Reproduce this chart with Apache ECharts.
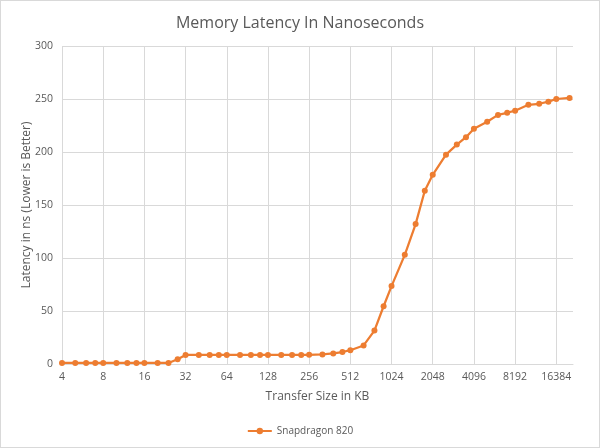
<!DOCTYPE html>
<html><head><meta charset="utf-8">
<script src="https://cdn.jsdelivr.net/npm/echarts@6/dist/echarts.min.js"></script>
<style>html,body{margin:0;padding:0;background:#fff}#c{width:598px;height:446px;border:1px solid #d9d9d9}</style>
</head><body><div id="c"></div>
<script>
const sizesKB = [4,5,6,7,8,10,12,14,16,20,24,28,32,40,48,56,64,80,96,112,128,160,192,224,256,320,384,448,512,640,768,896,1024,1280,1536,1792,2048,2560,3072,3584,4096,5120,6144,7168,8192,10240,12288,14336,16384,20480];
const latencyNs = [1,1,1,1,1,1,1,1,1,1,1,4.5,8.5,8.5,8.5,8.5,8.5,8.5,8.5,8.5,8.5,8.5,8.5,8.5,8.7,9,10,11.3,13,17.5,31.5,54.5,73.5,103,132,163.5,178.5,197.5,207,214,222,228.5,235,237,239,244.5,245.5,247.5,250,251];
const tickLabels = [4,8,16,32,64,128,256,512,1024,2048,4096,8192,16384];
const seriesName = 'Snapdragon 820';

const FONT = "'Open Sans', sans-serif";
const chart = echarts.init(document.getElementById('c'), null, {renderer:'canvas'});
chart.setOption({
  animation: false,
  textStyle: {fontFamily: FONT},
  title: {text: 'Memory Latency In Nanoseconds', left: 'center', top: 9,
    textStyle: {fontFamily: FONT, fontSize: 16, fontWeight: 'normal', color: '#595959'}},
  grid: {left: 61, right: 26, top: 45, bottom: 83},
  legend: {bottom: 6, left: 'center', itemWidth: 24, itemHeight: 8, itemGap: 10,
    textStyle: {fontFamily: FONT, fontSize: 10, color: '#595959'}, data: [seriesName]},
  xAxis: {
    type: 'log', logBase: 2, min: 4, max: 21700, interval: 1,
    name: 'Transfer Size in KB', nameLocation: 'middle', nameGap: 27,
    nameTextStyle: {fontFamily: FONT, fontSize: 12, color: '#595959'},
    axisLine: {show: true, lineStyle: {color: '#d9d9d9', width: 1}},
    axisTick: {show: false},
    axisLabel: {color: '#595959', fontSize: 10.5, fontFamily: FONT, margin: 8, showMaxLabel: false,
      formatter: v => { const r = Math.round(v); return tickLabels.includes(r) ? String(r) : ''; }},
    splitLine: {show: true, showMaxLine: false, lineStyle: {color: '#d9d9d9', width: 1}}
  },
  yAxis: {
    type: 'value', min: 0, max: 300, interval: 50,
    name: 'Latency in ns (Lower is Better)', nameLocation: 'middle', nameGap: 29, nameMoveOverlap: false,
    nameTextStyle: {fontFamily: FONT, fontSize: 12, color: '#595959'},
    axisLine: {show: false}, axisTick: {show: false},
    axisLabel: {color: '#595959', fontSize: 10.5, fontFamily: FONT, margin: 9},
    splitLine: {show: true, lineStyle: {color: '#d9d9d9', width: 1}}
  },
  series: [{
    name: seriesName, type: 'line',
    data: sizesKB.map((s, i) => [s, latencyNs[i]]),
    symbol: 'circle', symbolSize: 6, showAllSymbol: true,
    lineStyle: {color: '#ED7D31', width: 2.25},
    itemStyle: {color: '#ED7D31'},
    clip: false
  }]
});
</script></body></html>
